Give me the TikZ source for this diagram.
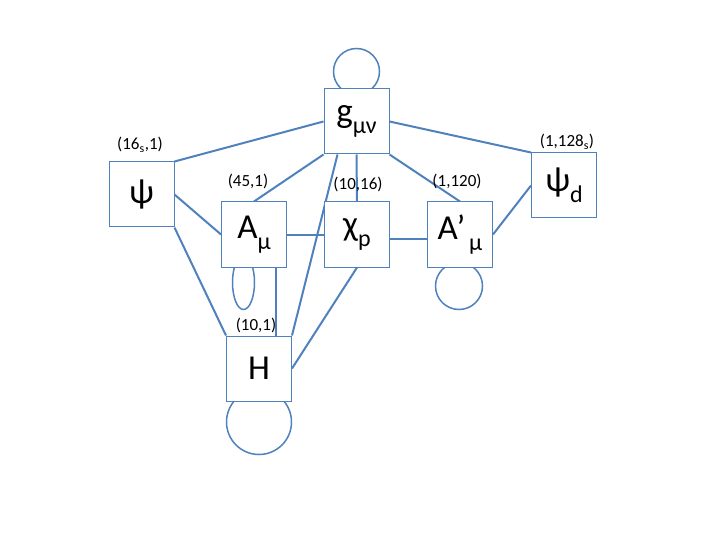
\documentclass[tikz,border=0pt]{standalone}
\usepackage{fontspec}
\setmainfont{Carlito}
\usetikzlibrary{positioning,backgrounds}
\definecolor{lnblue}{RGB}{79,129,189}
\newcommand{\sbs}[1]{\raisebox{-0.3em}{\fontsize{24}{26}\selectfont #1}}
\tikzset{
  fld/.style={draw=lnblue,fill=white,line width=1pt,minimum size=65pt,
    inner sep=0pt,font=\fontsize{35}{40}\selectfont},
  lnk/.style={draw=lnblue,line width=2pt},
  selfl/.style={draw=lnblue,line width=1.5pt},
  rep/.style={font=\fontsize{17}{20}\selectfont,inner sep=0pt},
}
\begin{document}
\begin{tikzpicture}[x=1pt,y=-1pt]
  \useasboundingbox (0,0) rectangle (720,540);
  % field boxes
  \node[fld] (g) at (356.5,121.5) {g\sbs{μν}};
  \node[fld] (psi) at (141.5,194.5) {ψ};
  \node[fld] (psid) at (564,185.5) {ψ\sbs{d}};
  \node[fld] (chi) at (357,234.5) {χ\sbs{p}};
  \node[fld,left=37pt of chi] (A) {A\sbs{μ}};
  \node[fld,right=37pt of chi] (Ap) {A’\hspace{4pt}\sbs{μ}};
  \node[fld] (H) at (259,368.5) {H};
  % representations
  \node[rep] (lpsi) at (140,145) {(16\textsubscript{s},1)};
  \node[rep] (lA) at (248,181) {(45,1)};
  \node[rep] (lchi) at (358,184) {(10,16)};
  \node[rep] (lAp) at (457,181) {(1,120)};
  \node[rep] (lpsid) at (567,142) {(1,128\textsubscript{s})};
  \node[rep] (lH) at (256,325) {(10,1)};
  % couplings
  \begin{scope}[on background layer]
    \draw[lnk] (g.west) -- (psi.north east);
    \draw[lnk] (g.east) -- (psid.north west);
    \draw[lnk] (g.south west) -- (A.north);
    \draw[lnk] (g.south) -- (chi.north);
    \draw[lnk] (g.south east) -- (Ap.north);
    \draw[lnk] (psi.east) -- (A.west);
    \draw[lnk] (psi.south east) -- (H.north west);
    \draw[lnk] (A.east) -- (chi.west);
    \draw[lnk] ([yshift=-4pt]chi.east) -- ([yshift=-4pt]Ap.west);
    \draw[lnk] (Ap.east) -- (psid.west);
    \draw[lnk] ([xshift=-11pt]A.south east) -- ([xshift=-11pt]A.south east |- H.north);
    \draw[lnk] (chi.south) -- (H.east);
    \draw[lnk] ([xshift=14pt]g.south west) -- (H.north east);
    % self couplings
    \draw[selfl] ([yshift=17pt]g.north) circle[radius=23pt];
    \draw[selfl] ([xshift=-10.5pt,yshift=-15pt]A.south) ellipse[x radius=11pt,y radius=27pt];
    \draw[selfl] ([xshift=-1pt,yshift=-18.5pt]Ap.south) circle[radius=23.5pt];
    \draw[selfl] ([yshift=-20.5pt]H.south) circle[radius=32.5pt];
  \end{scope}
\end{tikzpicture}
\end{document}
